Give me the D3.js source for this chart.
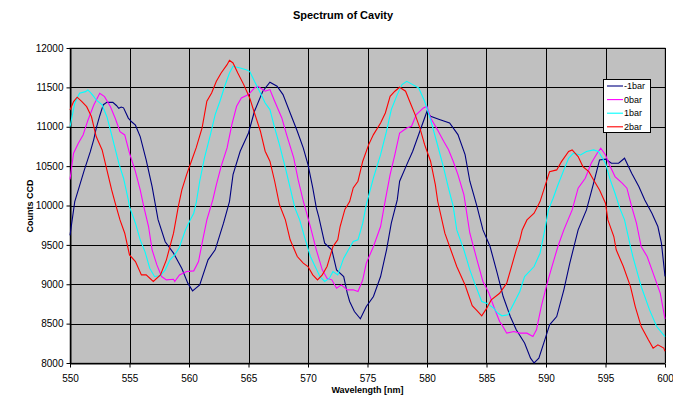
<!DOCTYPE html>
<html><head><meta charset="utf-8">
<script src="https://cdn.jsdelivr.net/npm/d3@7"></script>
<style>body{margin:0;background:#fff}svg{display:block;font-family:"Liberation Sans",Arial,sans-serif}</style>
</head><body><svg id="c" width="673" height="397"></svg>
<script>
const seriesNames = ["-1bar","0bar","1bar","2bar"];
const seriesColors = ["#000080","#FF00FF","#00FFFF","#FF0000"];
const xTicks = [550,555,560,565,570,575,580,585,590,595,600];
const yTicks = [8000,8500,9000,9500,10000,10500,11000,11500,12000];

const wlM1 = [550.0,550.4,550.8,551.2,551.7,552.0,552.2,552.5,552.8,553.1,553.6,553.9,554.1,554.3,554.5,554.9,555.2,555.5,555.9,556.4,556.9,557.4,558.0,558.7,559.4,559.9,560.3,560.9,561.6,562.2,562.9,563.4,563.7,564.3,565.0,565.5,566.2,566.8,567.4,567.9,568.5,569.1,569.6,570.0,570.4,570.7,570.9,571.4,572.0,572.4,573.0,573.3,573.5,573.9,574.4,574.9,575.5,576.1,576.6,577.0,577.5,577.7,578.3,578.8,579.4,580.0,580.3,581.1,581.9,582.6,583.2,583.6,584.2,584.7,585.3,585.9,586.4,587.0,587.5,588.2,588.7,589.0,589.4,589.9,590.3,590.9,591.5,592.0,592.7,593.4,594.0,594.5,595.0,595.5,596.1,596.6,597.2,597.8,598.3,598.9,599.4,599.7,600.0];
const cM1 = [9620,10050,10250,10450,10680,10840,10980,11140,11280,11310,11310,11270,11235,11250,11240,11110,11060,11020,10875,10580,10240,9820,9540,9395,9200,9014,8916,8990,9310,9437,9775,10050,10392,10689,10921,11197,11451,11565,11514,11408,11175,10943,10731,10519,10223,9970,9860,9522,9437,9183,9098,8887,8781,8654,8561,8717,8844,9098,9437,9775,10071,10308,10519,10689,10943,11197,11133,11090,11048,10900,10646,10308,9990,9690,9479,9140,8844,8590,8421,8253,8062,8000,8062,8294,8484,8590,8929,9268,9690,9944,10283,10579,10588,10537,10537,10600,10410,10240,10071,9902,9733,9522,9100];

const wl0 = [550.0,550.3,550.7,551.1,551.5,552.0,552.5,552.9,553.4,553.8,554.2,554.6,555.0,555.5,555.9,556.2,556.6,556.9,557.3,557.7,558.1,558.7,558.8,559.2,559.8,560.4,560.8,561.1,561.5,562.0,562.3,562.7,563.2,563.6,564.0,564.4,565.0,565.5,565.8,566.4,566.8,567.2,567.8,568.2,568.8,569.2,569.6,570.2,570.7,571.2,571.6,572.0,572.4,572.8,573.3,573.8,574.2,574.6,574.9,575.5,576.1,576.5,576.9,577.3,577.7,578.3,578.7,579.1,579.7,580.0,580.3,580.8,581.4,581.8,582.2,582.6,583.1,583.6,584.2,584.7,585.0,585.2,585.6,586.1,586.3,586.7,587.3,587.8,588.4,588.9,589.2,589.6,590.1,590.5,591.0,591.5,592.2,592.7,593.3,593.8,594.3,594.6,595.0,595.4,595.8,596.4,596.8,597.2,597.6,598.0,598.5,599.0,599.6,600.0];
const c0 = [10330,10664,10791,10896,11080,11277,11425,11382,11255,11108,10938,10896,10664,10430,10198,9986,9733,9437,9246,9098,9056,9064,9035,9119,9162,9170,9288,9522,9817,10071,10265,10498,10731,11027,11260,11366,11408,11492,11514,11451,11472,11324,11112,10900,10604,10308,10060,9733,9437,9183,9077,9056,8950,8992,8929,8929,8908,9056,9268,9479,9733,10071,10392,10646,10921,10985,11006,11154,11239,11260,11112,10985,10816,10710,10562,10392,10138,9648,9310,9035,8950,8887,8720,8527,8484,8379,8400,8379,8379,8336,8421,8717,9014,9225,9479,9690,9944,10220,10346,10537,10664,10727,10642,10494,10367,10283,10220,9986,9775,9479,9352,9141,8887,8560];

const wl1 = [550.0,550.4,550.8,551.3,551.5,551.8,552.0,552.2,552.7,553.1,553.5,554.1,554.5,554.9,555.0,555.5,555.9,556.3,556.7,557.1,557.6,558.0,558.4,558.8,559.2,559.7,560.1,560.4,560.6,560.9,561.3,561.8,562.2,562.6,563.0,563.4,563.7,564.3,564.8,565.1,565.5,566.0,566.4,566.8,567.2,567.6,568.1,568.5,568.9,569.3,569.7,570.2,570.6,571.0,571.4,571.8,572.1,572.5,573.0,573.4,573.8,574.2,574.6,574.9,575.5,576.1,576.6,577.0,577.5,577.9,578.3,578.8,579.3,579.8,580.3,580.8,581.4,581.8,582.2,582.5,583.1,583.6,584.0,584.6,585.0,585.6,585.9,586.3,586.8,587.3,587.8,588.2,589.0,589.5,589.9,590.2,590.6,591.0,591.5,591.9,592.3,592.9,593.4,594.0,594.4,595.0,595.4,595.8,596.2,596.6,597.1,597.3,598.0,598.7,599.3,600.0];
const c1 = [11000,11298,11425,11446,11467,11420,11382,11340,11277,11128,10896,10537,10346,10071,9986,9775,9564,9415,9204,9098,9107,9183,9310,9373,9470,9690,9817,9902,10029,10308,10604,10900,11154,11324,11514,11683,11768,11746,11725,11704,11577,11429,11302,11218,10985,10773,10477,10223,9970,9817,9606,9352,9225,9098,9035,9077,9162,9119,9331,9437,9542,9564,9775,10012,10350,10646,10943,11218,11408,11535,11577,11535,11492,11324,11090,10816,10477,10223,9991,9690,9437,9183,9014,8781,8760,8697,8640,8599,8612,8760,8908,9098,9225,9394,9690,9944,10092,10261,10452,10600,10664,10642,10685,10706,10685,10537,10325,10156,9966,9817,9479,9352,8971,8675,8463,8336];

const wl2 = [550.0,550.3,550.6,551.0,551.4,551.8,552.2,552.7,553.1,553.5,553.8,554.2,554.6,555.0,555.5,556.0,556.4,557.0,557.6,558.1,558.7,559.1,559.4,559.8,560.2,560.6,561.1,561.5,561.9,562.3,562.7,563.2,563.4,563.7,564.1,564.6,565.1,565.5,566.0,566.4,566.8,567.2,567.6,568.1,568.5,569.1,569.6,570.0,570.4,570.8,571.2,571.6,572.1,572.3,572.5,572.7,573.1,573.5,573.8,574.2,574.6,575.1,575.5,576.1,576.5,576.9,577.3,577.7,578.2,578.6,579.0,579.4,579.8,580.3,580.7,580.9,581.5,581.9,582.5,583.2,583.8,584.2,584.6,585.0,585.4,586.1,586.7,587.1,587.5,587.8,588.0,588.4,589.0,589.5,589.9,590.3,590.9,591.3,591.9,592.2,592.7,593.1,593.6,594.0,594.5,595.0,595.2,595.7,595.9,596.5,597.1,597.5,598.0,598.6,599.0,599.4,599.9,600.0];
const c2 = [11213,11319,11375,11319,11255,11130,10875,10706,10452,10198,10029,9817,9648,9373,9288,9119,9119,9035,9119,9310,9648,9986,10198,10392,10562,10731,10985,11324,11429,11577,11683,11788,11844,11810,11683,11535,11366,11175,10943,10689,10562,10308,10012,9817,9564,9352,9268,9225,9119,9056,9119,9225,9479,9522,9564,9733,9950,10050,10223,10308,10562,10773,10900,11048,11175,11387,11451,11501,11451,11302,11154,10985,10773,10562,10265,10054,9648,9479,9225,8990,8728,8665,8599,8690,8802,8885,9014,9225,9437,9564,9690,9817,9902,10050,10240,10430,10452,10557,10685,10706,10621,10494,10430,10325,10198,10029,9817,9606,9437,9225,8971,8717,8463,8294,8189,8231,8189,8150];

const wlData = [wlM1, wl0, wl1, wl2];
const cData = [cM1, c0, c1, c2];

const svg = d3.select("#c");
const L = 70, R = 665, T = 48, B = 363;
const x = d3.scaleLinear().domain([550,600]).range([L,R]);
const y = d3.scaleLinear().domain([8000,12000]).range([B,T]);

svg.append("rect").attr("x",L).attr("y",T).attr("width",R-L).attr("height",B-T)
  .attr("fill","#C0C0C0").attr("stroke","#808080");

const g = svg.append("g").attr("shape-rendering","crispEdges");
xTicks.forEach(t=>{ g.append("line").attr("x1",Math.round(x(t))+0.5).attr("x2",Math.round(x(t))+0.5)
  .attr("y1",T).attr("y2",B).attr("stroke","#000"); });
yTicks.forEach(t=>{ g.append("line").attr("y1",Math.round(y(t))+0.5).attr("y2",Math.round(y(t))+0.5)
  .attr("x1",L).attr("x2",R).attr("stroke","#000"); });

const xa = svg.append("g").attr("transform",`translate(0,${B+0.5})`)
  .call(d3.axisBottom(x).tickValues(xTicks).tickSize(4).tickSizeOuter(0).tickPadding(7).tickFormat(d3.format("d")));
const ya = svg.append("g").attr("transform",`translate(${L+0.5},0)`)
  .call(d3.axisLeft(y).tickValues(yTicks).tickSize(4).tickSizeOuter(0).tickPadding(3).tickFormat(d3.format("d")));
[xa,ya].forEach(a=>{ a.select(".domain").attr("stroke","#000");
  a.selectAll("line").attr("stroke","#000");
  a.selectAll("text").attr("font-size","10px").attr("fill","#000").attr("font-family","Liberation Sans, Arial"); });

const line = d3.line().x(d=>x(d[0])).y(d=>y(d[1]));
seriesNames.forEach((n,i)=>{
  const pts = wlData[i].map((w,j)=>[w,cData[i][j]]);
  svg.append("path").datum(pts).attr("d",line).attr("fill","none")
    .attr("stroke",seriesColors[i]).attr("stroke-width",1.1);
});

svg.append("text").attr("x",343).attr("y",19).attr("text-anchor","middle")
  .attr("font-size","11px").attr("font-weight","bold").text("Spectrum of Cavity");
svg.append("text").attr("x",(L+R)/2).attr("y",393).attr("text-anchor","middle")
  .attr("font-size","9px").attr("font-weight","bold").text("Wavelength [nm]");
svg.append("text").attr("transform","translate(33,206) rotate(-90)").attr("text-anchor","middle")
  .attr("font-size","9px").attr("font-weight","bold").text("Counts CCD");

const lg = svg.append("g");
lg.append("rect").attr("x",603.5).attr("y",79.5).attr("width",47).attr("height",53)
  .attr("fill","#fff").attr("stroke","#000");
seriesNames.forEach((n,i)=>{
  const yy = 86 + i*13.6;
  lg.append("line").attr("x1",607).attr("x2",623).attr("y1",yy).attr("y2",yy)
    .attr("stroke",seriesColors[i]).attr("stroke-width",1.1);
  lg.append("text").attr("x",624).attr("y",yy+3.2).attr("font-size","9px").text(n);
});
</script></body></html>
